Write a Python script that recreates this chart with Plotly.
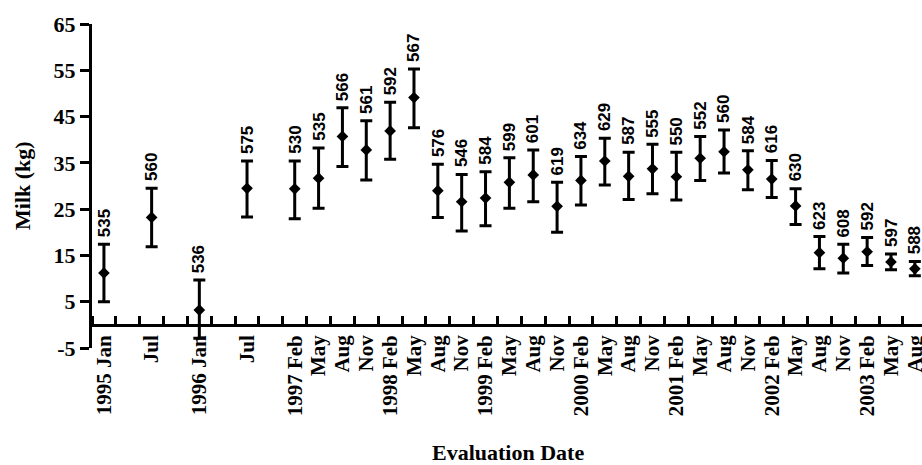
import plotly.graph_objects as go

# Axis slots (quarterly spacing; some slots are empty)
slots = ["1995 Jan", "1995 Apr", "1995 Jul", "1995 Oct",
         "1996 Jan", "1996 Apr", "1996 Jul", "1996 Oct",
         "1997 Feb", "1997 May", "1997 Aug", "1997 Nov",
         "1998 Feb", "1998 May", "1998 Aug", "1998 Nov",
         "1999 Feb", "1999 May", "1999 Aug", "1999 Nov",
         "2000 Feb", "2000 May", "2000 Aug", "2000 Nov",
         "2001 Feb", "2001 May", "2001 Aug", "2001 Nov",
         "2002 Feb", "2002 May", "2002 Aug", "2002 Nov",
         "2003 Feb", "2003 May", "2003 Aug"]
slot_labels = ["1995 Jan", "", "Jul", "",
               "1996 Jan", "", "Jul", "",
               "1997 Feb", "May", "Aug", "Nov",
               "1998 Feb", "May", "Aug", "Nov",
               "1999 Feb", "May", "Aug", "Nov",
               "2000 Feb", "May", "Aug", "Nov",
               "2001 Feb", "May", "Aug", "Nov",
               "2002 Feb", "May", "Aug", "Nov",
               "2003 Feb", "May", "Aug"]

# Evaluations
eval_dates = ["1995 Jan", "1995 Jul", "1996 Jan", "1996 Jul",
              "1997 Feb", "1997 May", "1997 Aug", "1997 Nov",
              "1998 Feb", "1998 May", "1998 Aug", "1998 Nov",
              "1999 Feb", "1999 May", "1999 Aug", "1999 Nov",
              "2000 Feb", "2000 May", "2000 Aug", "2000 Nov",
              "2001 Feb", "2001 May", "2001 Aug", "2001 Nov",
              "2002 Feb", "2002 May", "2002 Aug", "2002 Nov",
              "2003 Feb", "2003 May", "2003 Aug"]
n_bulls = [535, 560, 536, 575, 530, 535, 566, 561, 592, 567, 576, 546,
           584, 599, 601, 619, 634, 629, 587, 555, 550, 552, 560, 584,
           616, 630, 623, 608, 592, 597, 588]
milk_mean = [11.2, 23.2, 3.2, 29.5, 29.4, 31.7, 40.7, 37.8, 41.9, 49.1, 29.0, 26.6,
             27.4, 30.8, 32.4, 25.6, 31.2, 35.4, 32.1, 33.7, 32.0, 36.0, 37.4, 33.5,
             31.5, 25.7, 15.6, 14.4, 15.8, 13.6, 12.1]
milk_low = [5.0, 16.9, -2.9, 23.3, 22.9, 25.2, 34.2, 31.3, 35.8, 42.6, 23.2, 20.3,
            21.4, 25.2, 26.6, 20.0, 25.9, 30.2, 27.1, 28.3, 27.0, 31.2, 32.8, 29.2,
            27.5, 21.7, 12.1, 11.2, 12.8, 11.9, 10.6]
milk_high = [17.4, 29.5, 9.7, 35.4, 35.4, 38.2, 46.9, 44.1, 48.1, 55.3, 34.7, 32.5,
             33.1, 36.1, 37.8, 30.8, 36.4, 40.3, 37.3, 39.0, 37.3, 40.7, 42.1, 37.6,
             35.5, 29.4, 19.1, 17.4, 18.9, 15.3, 13.7]
y_ticks = [-5, 5, 15, 25, 35, 45, 55, 65]
y_tick_text = ["-5", "5", "15", "25", "35", "45", "55", "65"]

# slot index of each evaluation on the (ordinal) x axis
x_idx = [slots.index(d) for d in eval_dates]
slot_idx = list(range(len(slots)))
boundaries = [i - 0.5 for i in range(len(slots) + 1)]

err_plus = [h - m for h, m in zip(milk_high, milk_mean)]
err_minus = [m - l for m, l in zip(milk_mean, milk_low)]

serif = "Liberation Serif, Times New Roman, serif"

fig = go.Figure()
fig.add_trace(go.Scatter(
    x=x_idx, y=milk_mean, mode="markers",
    marker=dict(symbol="diamond", size=9, color="black"),
    error_y=dict(type="data", symmetric=False, array=err_plus, arrayminus=err_minus,
                 color="black", thickness=3, width=6),
    showlegend=False, hovertext=eval_dates,
))

for xi, h, n in zip(x_idx, milk_high, n_bulls):
    fig.add_annotation(x=xi, y=h, text=str(n), showarrow=False, textangle=-90,
                       xanchor="center", yanchor="bottom", yshift=5,
                       font=dict(family="Liberation Sans Narrow, Liberation Sans, Arial",
                                 size=17, color="black", weight="bold"))

fig.add_annotation(xref="paper", yref="paper", x=(22 - 92) / 830, y=0.5,
                   text="Milk (kg)", showarrow=False, textangle=-90,
                   xanchor="center", yanchor="middle",
                   font=dict(family=serif, size=22, color="black", weight="bold"))
fig.add_annotation(xref="paper", yref="paper", x=(508 - 92) / 830, y=(348 - 452) / 324,
                   text="Evaluation Date", showarrow=False,
                   xanchor="center", yanchor="middle",
                   font=dict(family=serif, size=22, color="black", weight="bold"))

fig.update_layout(
    width=922, height=465,
    margin=dict(l=92, r=0, t=24, b=117, autoexpand=False),
    plot_bgcolor="white", paper_bgcolor="white",
    xaxis=dict(range=[-0.5, 34.3],
               tickmode="array", tickvals=slot_idx, ticktext=slot_labels,
               ticks="", tickangle=-90, ticklabeloverflow="allow",
               tickfont=dict(family=serif, size=21, color="black", weight="bold"),
               minor=dict(tickmode="array", tickvals=boundaries, ticks="inside",
                          ticklen=8, tickwidth=2.5, tickcolor="black", showgrid=False),
               showline=True, linewidth=3, linecolor="black",
               showgrid=False, zeroline=False,
               anchor="free", position=5 / 70, automargin=False),
    yaxis=dict(range=[-5, 65], tickmode="array", tickvals=y_ticks, ticktext=y_tick_text,
               ticks="outside", ticklen=9, tickwidth=3, tickcolor="black",
               tickfont=dict(family=serif, size=22, color="black", weight="bold"),
               showline=True, linewidth=3, linecolor="black",
               showgrid=False, zeroline=False, domain=[0, 1], automargin=False),
)

fig.write_html("out.html", config={"displayModeBar": False},
               post_script="document.body.style.margin='0';document.body.style.overflow='hidden';")
